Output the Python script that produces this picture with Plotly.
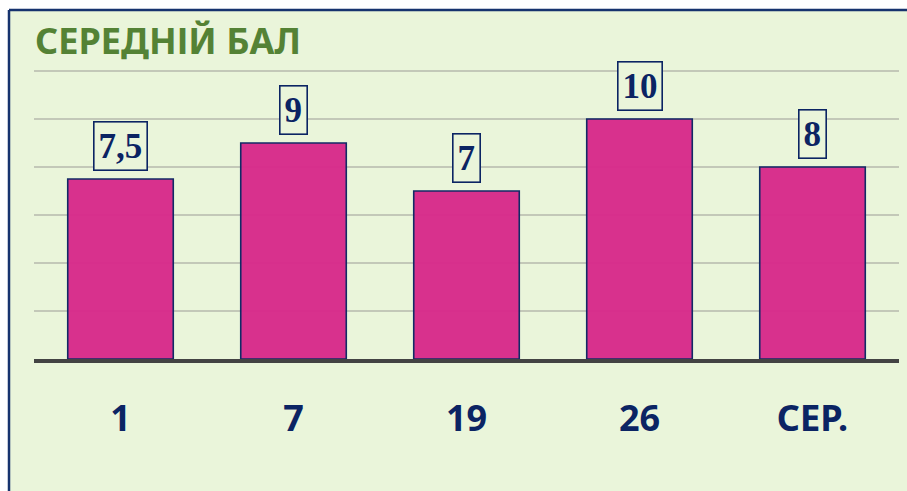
import plotly.graph_objects as go

# Середній бал по групах
groups = ["1", "7", "19", "26", "СЕР."]
scores = [7.5, 9, 7, 10, 8]
y_ticks = [0, 2, 4, 6, 8, 10, 12]

NAVY = "#0B2463"
GREEN_BG = "#EAF5DA"
BAR = "#D82B8B"


def fmt(v):
    # десяткова кома, без зайвого нуля
    s = f"{v:g}"
    return s.replace(".", ",")


W, H = 907, 491
L, R, T, B = 34, 8, 59, 132
plot_w = W - L - R
plot_h = H - T - B


def px_x(px):
    return (px - L) / plot_w


def px_y(py):
    return (H - B - py) / plot_h


fig = go.Figure()
fig.add_trace(go.Bar(
    x=groups, y=scores, width=0.61,
    marker=dict(color=BAR, opacity=0.97, line=dict(color=NAVY, width=1.6)),
    hoverinfo="skip",
))

for i, v in enumerate(scores):
    fig.add_annotation(
        x=i, y=v, xref="x", yref="y", text=f"<b>{fmt(v)}</b>",
        showarrow=False, yanchor="bottom", yshift=8,
        font=dict(family="Liberation Serif, Times New Roman, serif", size=35, color=NAVY),
        bordercolor=NAVY, borderwidth=1.6, borderpad=4, bgcolor=GREEN_BG,
    )

fig.add_annotation(
    x=px_x(33), y=px_y(40), xref="paper", yref="paper",
    text="<b>СЕРЕДНІЙ БАЛ</b>", showarrow=False,
    xanchor="left", yanchor="middle",
    font=dict(family="Noto Sans, Open Sans, sans-serif", size=36, color="#548235"),
)

shapes = [
    # фон діаграми
    dict(type="rect", xref="paper", yref="paper", layer="below",
         x0=px_x(9), x1=px_x(W + 5), y0=px_y(10), y1=px_y(H + 5),
         fillcolor=GREEN_BG, line=dict(width=0)),
    # рамка зверху та зліва
    dict(type="line", xref="paper", yref="paper",
         x0=px_x(9), x1=px_x(W + 5), y0=px_y(10), y1=px_y(10),
         line=dict(color="#16336E", width=2.5)),
    dict(type="line", xref="paper", yref="paper",
         x0=px_x(9), x1=px_x(9), y0=px_y(10), y1=px_y(H + 5),
         line=dict(color="#16336E", width=2.5)),
]

fig.update_layout(
    width=W, height=H,
    margin=dict(l=L, r=R, t=T, b=B),
    paper_bgcolor="white", plot_bgcolor="rgba(0,0,0,0)",
    showlegend=False, bargap=0.39,
    shapes=shapes,
    xaxis=dict(
        type="category",
        showgrid=False, zeroline=False, showline=True,
        linecolor="#434343", linewidth=3.5, ticks="",
        tickfont=dict(family="Noto Sans, Open Sans, sans-serif", size=36, color=NAVY),
        ticklabelstandoff=25,
    ),
    yaxis=dict(
        range=[0, 12.5], tickvals=y_ticks, showticklabels=False,
        showgrid=True, gridcolor="#C3C8B8", gridwidth=1.5,
        zeroline=False, showline=False, ticks="",
    ),
)
fig.update_xaxes(tickprefix="<b>", ticksuffix="</b>")

fig.write_html("out.html")
